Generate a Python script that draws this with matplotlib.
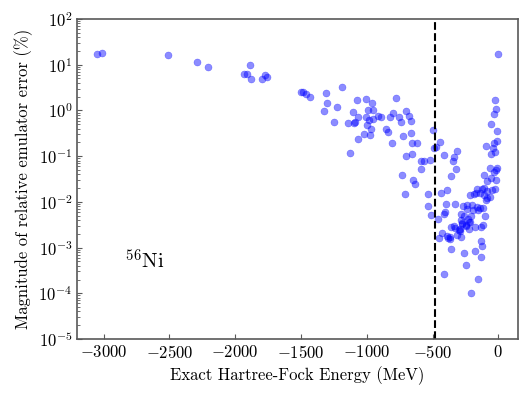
import numpy as np
import matplotlib
matplotlib.use("Agg")
import matplotlib.pyplot as plt

plt.rcParams['font.family'] = 'cmr10'
plt.rcParams['mathtext.fontset'] = 'cm'
plt.rcParams['axes.formatter.use_mathtext'] = True

# exact HF energy (MeV) and relative emulator error (%)
hf_energy = [
    -3048, -3010, -2508, -2288, -2206, -1889, -1933, -1908, -1877, -1798, -1775, -1756,
    -1502, -1482, -1464, -1429, -1309, -1188, -1302, -1228, -1325, -1246, -1076, -1003,
    -958, -1102, -993, -955, -1064, -1087, -1140, -1094, -1005, -985, -950, -914,
    -894, -1000, -970, -1023, -975, -1069, -1129, -777, -803, -823, -755, -699,
    -681, -737, -661, -856, -838, -727, -661, -808, -654, -620, -656, -699,
    -587, -562, -590, -732, -646, -631, -519, -709, -534, -537, -511,
    -499, -443, -476, -489, -410, -316, -334, -344, -321, -362, -433, -392,
    -458, -397, -403, -413, -327,
    -2, -25, -17, -35, -58, -12, -10, -35, -96, -40, -27, -58,
    -65, -10, -106, -33, -58, -20, -84, -17, -162, -126, -111, -88,
    -46, -25, -217, -187, -169, -139, -106, -84, -63, -91, -236, -266,
    -240, -202, -164, -157, -139, -114, -101, -192, -281, -258, -286, -230,
    -207, -215, -278, -248, -289, -329, -357, -296, -223, -175, -129, -119,
    -312, -286, -367, -385, -448, -388, -426, -334, -369, -362, -293, -276,
    -245, -220, -134, -122, -129, -263, -179, -245, -413, -152, -207,
]
rel_error = [
    17.0, 18.4, 16.1, 11.3, 8.95, 9.75, 6.2, 6.2, 4.89, 4.82, 5.98, 5.41,
    2.50, 2.54, 2.30, 1.97, 2.42, 3.22, 1.44, 1.21, 0.99, 0.569, 1.72, 1.81,
    1.48, 0.927, 1.03, 1.01, 0.731, 0.569, 0.541, 0.525, 0.731, 0.620, 0.652, 0.747,
    0.731, 0.482, 0.400, 0.311, 0.291, 0.234, 0.116, 1.85, 0.868, 0.731, 0.731, 0.975,
    0.770, 0.569, 0.589, 0.388, 0.339, 0.281, 0.317, 0.197, 0.197, 0.192, 0.112, 0.101,
    0.0797, 0.0785, 0.0533, 0.0382, 0.0301, 0.0250, 0.0813, 0.0151, 0.0147, 0.00826, 0.00517,
    0.374, 0.201, 0.161, 0.153, 0.106, 0.130, 0.0975, 0.0785, 0.0512, 0.0363, 0.0157, 0.0179,
    0.00423, 0.00886, 0.00592, 0.00552, 0.00886,
    17.2, 1.72, 1.08, 0.851, 0.499, 0.361, 0.215, 0.197, 0.170, 0.149, 0.122, 0.110,
    0.0543, 0.0560, 0.0394, 0.0444, 0.0333, 0.0306, 0.0282, 0.0499, 0.0189, 0.0189, 0.0201, 0.0176,
    0.0185, 0.0192, 0.0139, 0.0151, 0.0159, 0.0154, 0.0144, 0.0122, 0.0126, 0.0108, 0.00843, 0.00801,
    0.00689, 0.00855, 0.00785, 0.00665, 0.00735, 0.00746, 0.00491, 0.00665, 0.00535, 0.00491, 0.00402, 0.00423,
    0.00491, 0.00363, 0.00328, 0.00297, 0.00259, 0.00268, 0.00278, 0.00243, 0.00259, 0.00278, 0.00287, 0.00308,
    0.00189, 0.00173, 0.00171, 0.00162, 0.00165, 0.00179, 0.00206, 0.00301, 0.00152, 0.000932, 0.00227, 0.00340,
    0.00312, 0.00369, 0.00137, 0.00108, 0.000623, 0.000750, 0.000843, 0.000416, 0.000264, 0.000209, 0.000100,
]
cutoff = -485

fig = plt.figure(figsize=(5.31, 3.99), dpi=100)
ax = fig.add_axes([0.1456, 0.1504, 0.830, 0.802])

ax.scatter(hf_energy, rel_error, s=26, color='b', alpha=0.45, linewidths=0.3)
ax.axvline(cutoff, color='k', linestyle='--', linewidth=1.5)

ax.set_yscale('log')
ax.set_ylim(1e-5, 1e2)
ax.set_xlim(-3200, 150)
ax.set_xticks([-3000, -2500, -2000, -1500, -1000, -500, 0])

ax.set_xlabel('Exact Hartree-Fock Energy (MeV)', fontsize=12)
ax.set_ylabel('Magnitude of relative emulator error (%)', fontsize=12)
ax.tick_params(axis='both', which='both', direction='in', labelsize=12, colors='0.35', labelcolor='k')
for sp in ax.spines.values():
    sp.set_color('0.35')
    sp.set_linewidth(1.2)

ax.text(0.108, 0.22, r'$^{56}$Ni', transform=ax.transAxes, fontsize=15)

fig.savefig('out.png', dpi=100)
